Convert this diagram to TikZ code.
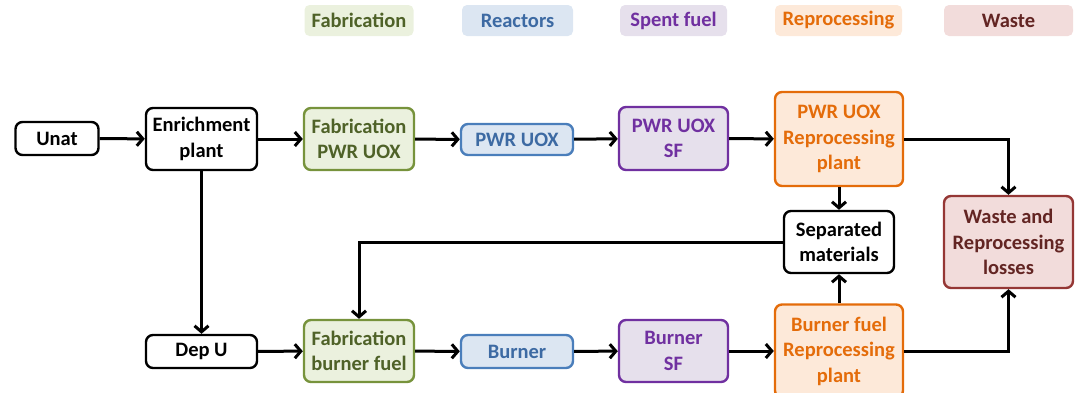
\documentclass[tikz,border=0pt]{standalone}
\usepackage{fontspec}
\setmainfont{Carlito}
\usetikzlibrary{arrows.meta}
\definecolor{fabF}{HTML}{EBF1DE}\definecolor{fabD}{HTML}{77933C}\definecolor{fabT}{HTML}{4F6228}
\definecolor{reaF}{HTML}{DCE6F2}\definecolor{reaD}{HTML}{4A7EBB}\definecolor{reaT}{HTML}{3D6AA3}
\definecolor{spF}{HTML}{E6E0EC}\definecolor{spD}{HTML}{7030A0}\definecolor{spT}{HTML}{7030A0}
\definecolor{repF}{HTML}{FDE9D9}\definecolor{repD}{HTML}{E46C0A}\definecolor{repT}{HTML}{E46C0A}
\definecolor{wasF}{HTML}{F2DCDB}\definecolor{wasD}{HTML}{953735}\definecolor{wasT}{HTML}{632523}
\begin{document}
\begin{tikzpicture}[x=1pt,y=-1pt,
  every node/.style={font=\fontsize{20.5}{25.5}\selectfont\bfseries, align=center, inner sep=0pt},
  box/.style={rounded corners=7pt, line width=2.4pt},
  blk/.style={box, draw=black, fill=white, text=black},
  fab/.style={box, draw=fabD, fill=fabF, text=fabT},
  rea/.style={box, draw=reaD, fill=reaF, text=reaT},
  spe/.style={box, draw=spD, fill=spF, text=spT},
  rep/.style={box, draw=repD, fill=repF, text=repT},
  was/.style={box, draw=wasD, fill=wasF, text=wasT},
  leg/.style={rounded corners=5pt, minimum height=31pt},
  conn/.style={line width=3pt, -{Straight Barb[length=6pt,width=14pt,line width=3pt]}}
]
\useasboundingbox (0,0) rectangle (1078,392);
% legend
\node[leg, fill=fabF, text=fabT, minimum width=109pt] (lfab) at (359,20.5) {Fabrication};
\node[leg, fill=reaF, text=reaT, minimum width=111pt] (lrea) at (517.5,20.5) {Reactors};
\node[leg, fill=spF, text=spT, minimum width=107pt] (lspe) at (673.5,20.5) {Spent fuel};
\node[leg, fill=repF, text=repT, minimum width=127pt] (lrep) at (838.5,20.5) {Reprocessing};
\node[leg, fill=wasF, text=wasT, minimum width=129pt] (lwas) at (1008.5,20.5) {Waste};
% nodes
\node[blk, minimum width=83pt, minimum height=33pt] (unat) at (57,138.5) {Unat};
\node[blk, minimum width=111pt, minimum height=62pt] (enrich) at (201.5,139) {Enrichment\\plant};
\node[fab, minimum width=110pt, minimum height=62pt] (fabpwr) at (359,139) {Fabrication\\PWR UOX};
\node[rea, minimum width=112pt, minimum height=31pt] (pwr) at (517,139.5) {PWR UOX};
\node[spe, minimum width=109pt, minimum height=63pt] (pwrsf) at (673.5,138.5) {PWR UOX\\SF};
\node[rep, minimum width=128pt, minimum height=94pt] (pwrrep) at (839,139) {PWR UOX\\Reprocessing\\plant};
\node[blk, minimum width=110pt, minimum height=62pt] (sep) at (839,242) {Separated\\materials};
\node[was, minimum width=129pt, minimum height=92pt] (waste) at (1008.5,242) {Waste and\\Reprocessing\\losses};
\node[blk, minimum width=111pt, minimum height=33pt] (depu) at (201.5,351.5) {Dep U};
\node[fab, minimum width=110pt, minimum height=62pt] (fabb) at (359,351) {Fabrication\\burner fuel};
\node[rea, minimum width=112pt, minimum height=33pt] (burner) at (517,351.5) {Burner};
\node[spe, minimum width=109pt, minimum height=62pt] (bsf) at (673.5,351) {Burner\\SF};
\node[rep, minimum width=128pt, minimum height=93pt] (brep) at (839,351) {Burner fuel\\Reprocessing\\plant};
% connectors
\draw[conn] (unat) -- (enrich);
\draw[conn] (enrich) -- (fabpwr);
\draw[conn] (fabpwr) -- (pwr);
\draw[conn] (pwr) -- (pwrsf);
\draw[conn] (pwrsf) -- (pwrrep);
\draw[conn] (pwrrep.east) -| (waste.north);
\draw[conn] (pwrrep) -- (sep);
\draw[conn] (enrich) -- (depu);
\draw[conn] (depu) -- (fabb);
\draw[conn] (sep.west) -| (fabb.north);
\draw[conn] (fabb) -- (burner);
\draw[conn] (burner) -- (bsf);
\draw[conn] (bsf) -- (brep);
\draw[conn] (brep) -- (sep);
\draw[conn] (brep.east) -| (waste.south);
\end{tikzpicture}
\end{document}
